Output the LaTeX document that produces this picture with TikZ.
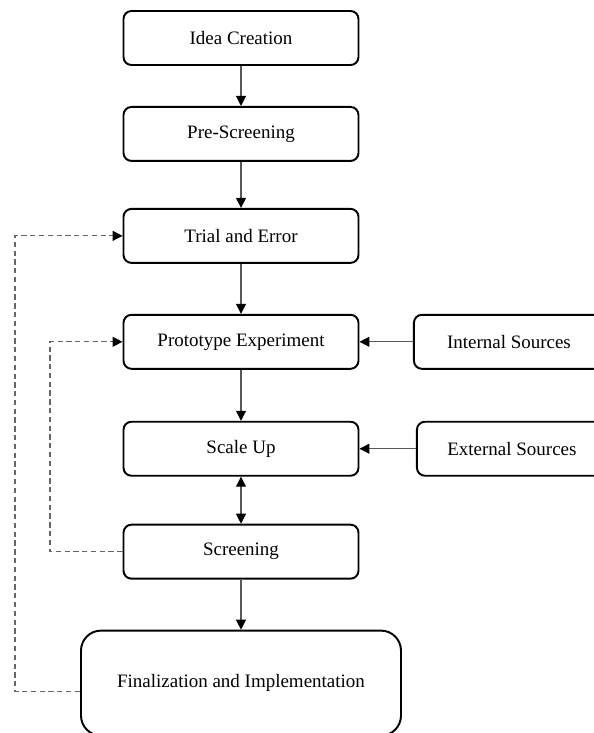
\documentclass[tikz,border=0pt]{standalone}
\usepackage{fontspec}
\setmainfont{Liberation Serif}
\usetikzlibrary{arrows.meta,positioning}

\begin{document}
\begin{tikzpicture}[->,>={Triangle[length=2mm,width=2mm,color=black]},
    stage/.style={draw,line width=1.1pt,rounded corners=0.16cm,minimum width=4.7cm,
        minimum height=1.08cm,align=center,font=\fontsize{10.8}{13}\selectfont},
    source/.style={stage,minimum width=3.8cm},
    flow/.style={draw=black!65,line width=0.6pt},
    back/.style={draw=black!60,line width=0.6pt,dash pattern=on 3pt off 2pt}]
    \useasboundingbox (0,0) rectangle (11.86,-14.66);

        \node[stage] (Idea) at (4.82,-0.76) {Idea Creation};
        \node[stage] (PreScr) [below=0.80cm of Idea] {Pre-Screening};
        \node[stage] (Trial) [below=0.92cm of PreScr] {Trial and Error};
        \node[stage] (Proto) [below=1.00cm of Trial] {Prototype Experiment};
        \node[stage] (Scale) [below=1.02cm of Proto] {Scale Up};
        \node[stage] (Screen) [below=0.94cm of Scale] {Screening};
        \node[stage,minimum width=6.4cm,minimum height=2.1cm,rounded corners=0.4cm]
            (Final) [below=1.00cm of Screen] {Finalization and Implementation};
        \node[source] (Internal) [right=1.07cm of Proto] {Internal Sources};
        \node[source] (External) [right=1.13cm of Scale] {External Sources};

        \coordinate (OuterLoop) at (0.3,0);
        \coordinate (InnerLoop) at (1.0,0);

        \path[flow] (Idea) edge (PreScr)
              (PreScr) edge (Trial)
              (Trial) edge (Proto)
              (Proto) edge (Scale)
              (Screen) edge (Final)
              (Internal) edge (Proto)
              (External) edge (Scale);
        \draw[flow,<->] (Scale) -- (Screen);

        % feedback loops
        \draw[back] ([yshift=-0.17cm]Final.west) -- ([yshift=-0.17cm]Final.west -| OuterLoop) |- (Trial.west);
        \draw[back] (Screen.west) -- (Screen.west -| InnerLoop) |- (Proto.west);
\end{tikzpicture}
\end{document}
